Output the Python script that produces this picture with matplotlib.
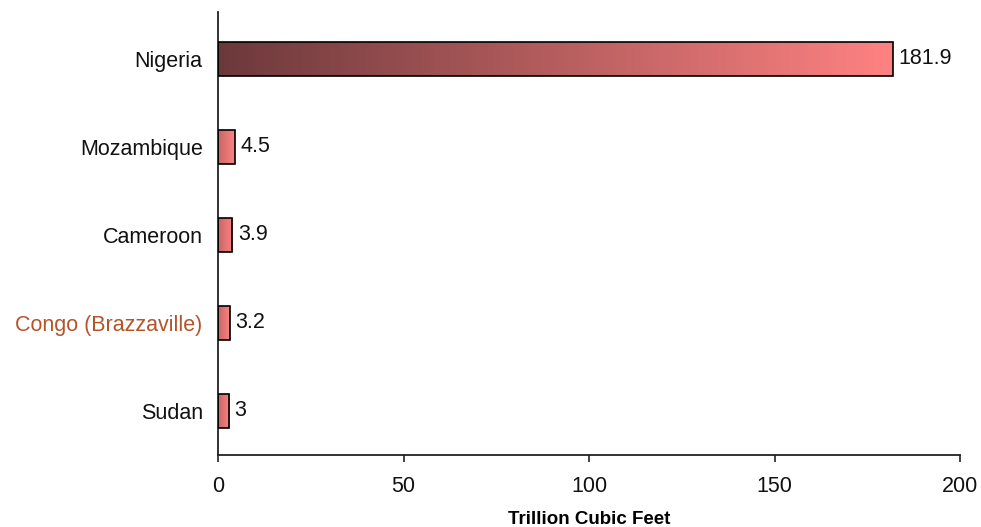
import numpy as np
import matplotlib.pyplot as plt
from matplotlib.colors import LinearSegmentedColormap, to_rgb

countries = ['Nigeria', 'Mozambique', 'Cameroon', 'Congo (Brazzaville)', 'Sudan']
reserves = [181.9, 4.5, 3.9, 3.2, 3.0]
value_labels = ['181.9', '4.5', '3.9', '3.2', '3']

DARK = np.array(to_rgb('#6c393b'))
LIGHT = np.array(to_rgb('#ff8282'))
FS = 15.5

plt.rcParams['font.family'] = ['Liberation Sans', 'DejaVu Sans']

fig = plt.figure(figsize=(9.81, 5.27), dpi=100)
ax = fig.add_axes([218 / 981, 1 - 455 / 527, (960 - 218) / 981, (455 - 12) / 527])

ypos = np.arange(len(countries))
height = 0.39
bars = ax.barh(ypos, reserves, height=height, color='none',
               edgecolor='black', linewidth=1.2, zorder=3)

grad = np.linspace(0, 1, 256).reshape(1, -1)
for bar, val in zip(bars, reserves):
    # small bars only show part of the dark-to-light blend
    t = np.clip(val / 50, 0.42, 1.0)
    start = LIGHT + t * (DARK - LIGHT)
    start = start + 0.15 * (1 - t) * (LIGHT - start)
    cmap = LinearSegmentedColormap.from_list('g', [start, LIGHT])
    y0 = bar.get_y()
    im = ax.imshow(grad, cmap=cmap, aspect='auto', zorder=2,
                   extent=[0, val, y0, y0 + bar.get_height()])
    im.set_clip_path(bar)

for y, val, lab in zip(ypos, reserves, value_labels):
    ax.text(val + 1.5, y, lab, va='center', ha='left', fontsize=FS,
            color='#111111')

ax.set_xlim(0, 200)
ax.set_ylim(len(countries) - 0.5, -0.53)
ax.set_xticks([0, 50, 100, 150, 200])
ax.set_yticks(ypos)
ax.set_yticklabels(countries, fontsize=FS, color='#111111')
ax.get_yticklabels()[3].set_color('#b5532a')
ax.tick_params(axis='y', length=0, pad=11)
ax.tick_params(axis='x', length=5, width=1.2, labelsize=FS, pad=10,
               color='#222222', labelcolor='#111111')
ax.set_xlabel('Trillion Cubic Feet', fontsize=13.5, fontweight='bold',
              labelpad=10)

for side in ['top', 'right']:
    ax.spines[side].set_visible(False)
for side in ['left', 'bottom']:
    ax.spines[side].set_linewidth(1.3)
    ax.spines[side].set_color('#222222')

fig.savefig('out.png', dpi=100)
